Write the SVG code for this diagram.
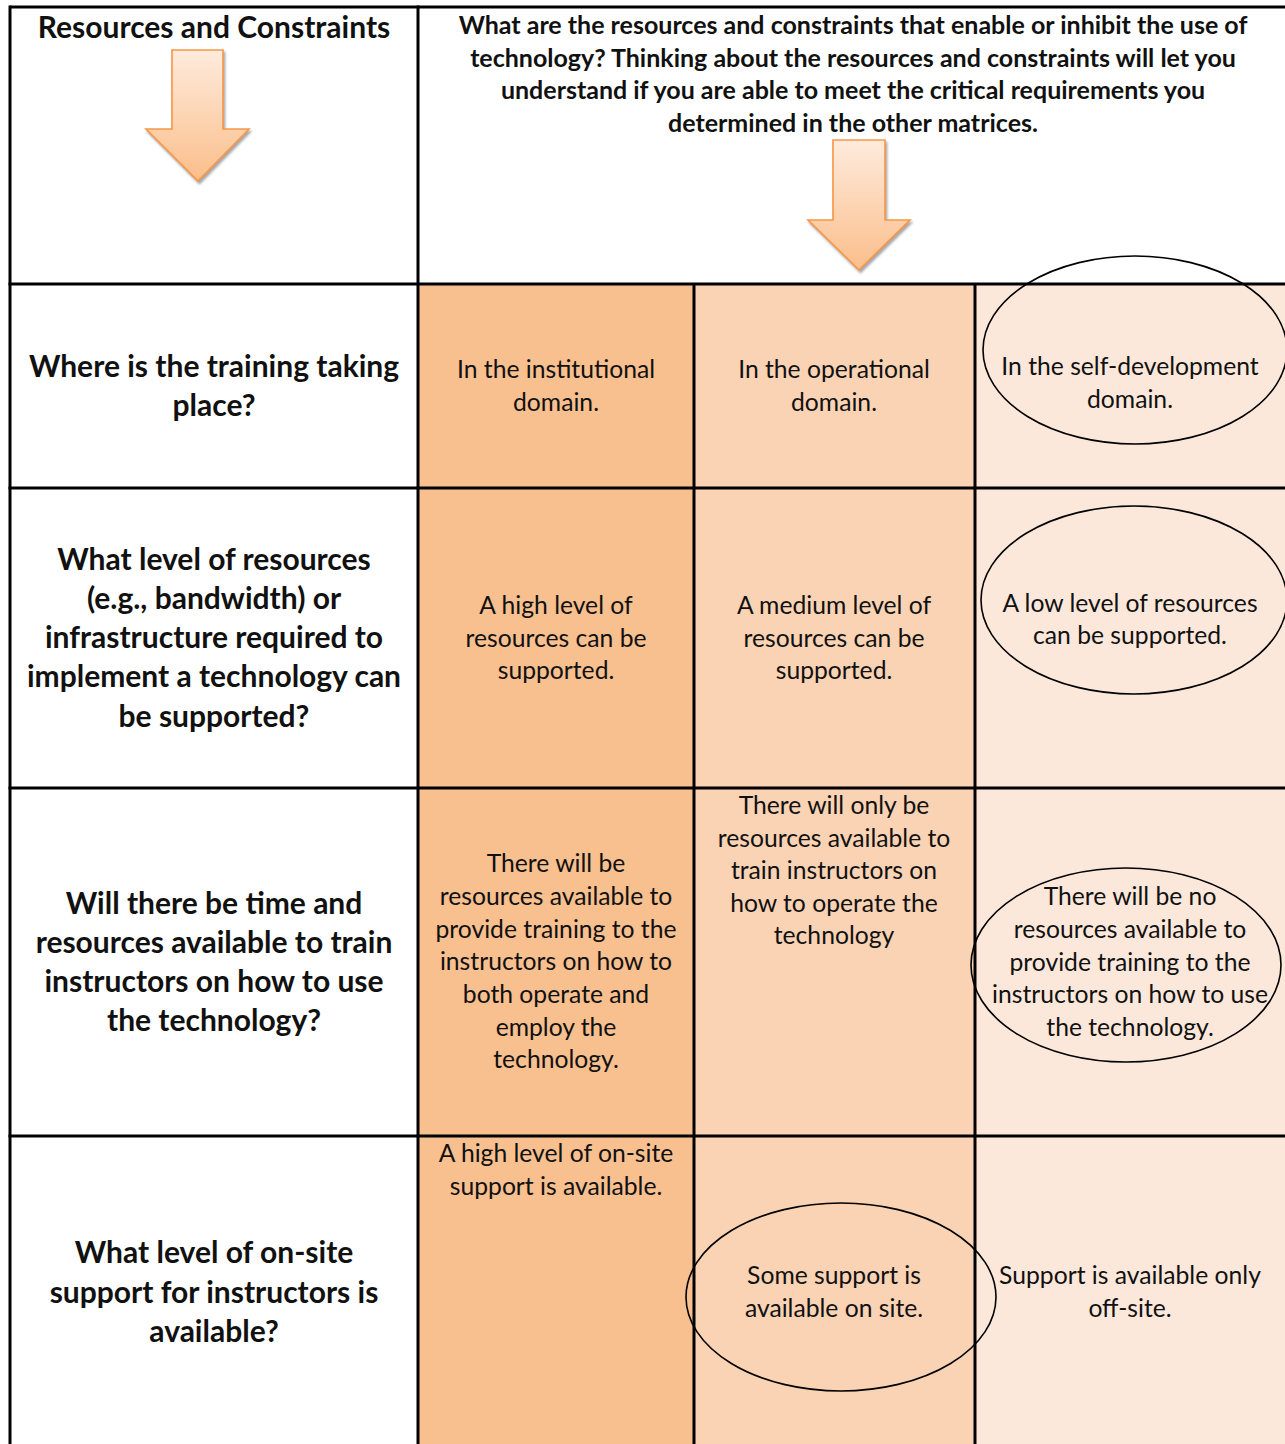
<svg xmlns="http://www.w3.org/2000/svg" width="1285" height="1444" viewBox="0 0 1285 1444">
<style>
text{font-family:Lato,"Liberation Sans",sans-serif;fill:#111;text-anchor:middle}
.q{font-size:30px;font-weight:bold}
.h{font-size:25px;font-weight:bold}
.c{font-size:24.7px}
.grid{stroke:#000;stroke-width:3;fill:none}
.ell{stroke:#000;stroke-width:1.6;fill:none}
.arrow{fill:url(#ag);stroke:#F79646;stroke-width:1.6;filter:url(#sh)}
</style>
<defs>
<linearGradient id="ag" x1="0" y1="0" x2="0" y2="1">
<stop offset="0" stop-color="#FEEBDD"/>
<stop offset="1" stop-color="#FBBE8A"/>
</linearGradient>
<filter id="sh" x="-20%" y="-20%" width="140%" height="140%">
<feDropShadow dx="1.5" dy="2.5" stdDeviation="1" flood-color="#808080" flood-opacity="0.7"/>
</filter>
</defs>
<rect width="1285" height="1444" fill="#fff"/>
<g id="fills">
<rect x="418" y="284" width="276" height="1160" fill="#F8BF8F"/>
<rect x="694" y="284" width="281" height="1160" fill="#FAD3B4"/>
<rect x="975" y="284" width="310" height="1160" fill="#FCE8DA"/>
</g>
<g id="grid" class="grid">
<line x1="10" y1="7" x2="1285" y2="7"/>
<line x1="10" y1="5.5" x2="10" y2="1444"/>
<line x1="418" y1="5.5" x2="418" y2="1444"/>
<line x1="694" y1="284" x2="694" y2="1444"/>
<line x1="975" y1="284" x2="975" y2="1444"/>
<line x1="8.5" y1="284" x2="1285" y2="284"/>
<line x1="8.5" y1="488" x2="1285" y2="488"/>
<line x1="8.5" y1="788" x2="1285" y2="788"/>
<line x1="8.5" y1="1136" x2="1285" y2="1136"/>
</g>
<g id="header-left">
<text class="q" x="214" y="38">Resources and Constraints</text>
<path class="arrow" d="M172,50 H223 V129 H249 L198,181 L146,129 H172 Z"/>
</g>
<g id="header-right">
<text class="h" x="853" y="34">What are the resources and constraints that enable or inhibit the use of</text>
<text class="h" x="853" y="67">technology? Thinking about the resources and constraints will let you</text>
<text class="h" x="853" y="99">understand if you are able to meet the critical requirements you</text>
<text class="h" x="853" y="132">determined in the other matrices.</text>
<path class="arrow" d="M833,140 H885 V220 H910 L859,270 L808,220 H833 Z"/>
</g>
<g id="row1">
<text class="q" x="214" y="377">Where is the training taking</text>
<text class="q" x="214" y="416">place?</text>
<text class="c" x="556" y="378">In the institutional</text>
<text class="c" x="556" y="411">domain.</text>
<text class="c" x="834" y="378">In the operational</text>
<text class="c" x="834" y="411">domain.</text>
<text class="c" x="1130" y="375">In the self-development</text>
<text class="c" x="1130" y="408">domain.</text>
<ellipse class="ell" cx="1135" cy="350" rx="152" ry="94"/>
</g>
<g id="row2">
<text class="q" x="214" y="570">What level of resources</text>
<text class="q" x="214" y="609">(e.g., bandwidth) or</text>
<text class="q" x="214" y="648">infrastructure required to</text>
<text class="q" x="214" y="687">implement a technology can</text>
<text class="q" x="214" y="727">be supported?</text>
<text class="c" x="556" y="614">A high level of</text>
<text class="c" x="556" y="647">resources can be</text>
<text class="c" x="556" y="679">supported.</text>
<text class="c" x="834" y="614">A medium level of</text>
<text class="c" x="834" y="647">resources can be</text>
<text class="c" x="834" y="679">supported.</text>
<text class="c" x="1130" y="612">A low level of resources</text>
<text class="c" x="1130" y="644">can be supported.</text>
<ellipse class="ell" cx="1134" cy="600" rx="153" ry="94"/>
</g>
<g id="row3">
<text class="q" x="214" y="914">Will there be time and</text>
<text class="q" x="214" y="953">resources available to train</text>
<text class="q" x="214" y="992">instructors on how to use</text>
<text class="q" x="214" y="1031">the technology?</text>
<text class="c" x="556" y="872">There will be</text>
<text class="c" x="556" y="905">resources available to</text>
<text class="c" x="556" y="938">provide training to the</text>
<text class="c" x="556" y="970">instructors on how to</text>
<text class="c" x="556" y="1003">both operate and</text>
<text class="c" x="556" y="1036">employ the</text>
<text class="c" x="556" y="1068">technology.</text>
<text class="c" x="834" y="814">There will only be</text>
<text class="c" x="834" y="847">resources available to</text>
<text class="c" x="834" y="879">train instructors on</text>
<text class="c" x="834" y="912">how to operate the</text>
<text class="c" x="834" y="944">technology</text>
<text class="c" x="1130" y="905">There will be no</text>
<text class="c" x="1130" y="938">resources available to</text>
<text class="c" x="1130" y="971">provide training to the</text>
<text class="c" x="1130" y="1003">instructors on how to use</text>
<text class="c" x="1130" y="1036">the technology.</text>
<ellipse class="ell" cx="1126" cy="965" rx="155" ry="97"/>
</g>
<g id="row4">
<text class="q" x="214" y="1263">What level of on-site</text>
<text class="q" x="214" y="1303">support for instructors is</text>
<text class="q" x="214" y="1342">available?</text>
<text class="c" x="556" y="1162">A high level of on-site</text>
<text class="c" x="556" y="1195">support is available.</text>
<text class="c" x="834" y="1284">Some support is</text>
<text class="c" x="834" y="1317">available on site.</text>
<text class="c" x="1130" y="1284">Support is available only</text>
<text class="c" x="1130" y="1317">off-site.</text>
<ellipse class="ell" cx="841" cy="1297" rx="155" ry="94"/>
</g>
</svg>
